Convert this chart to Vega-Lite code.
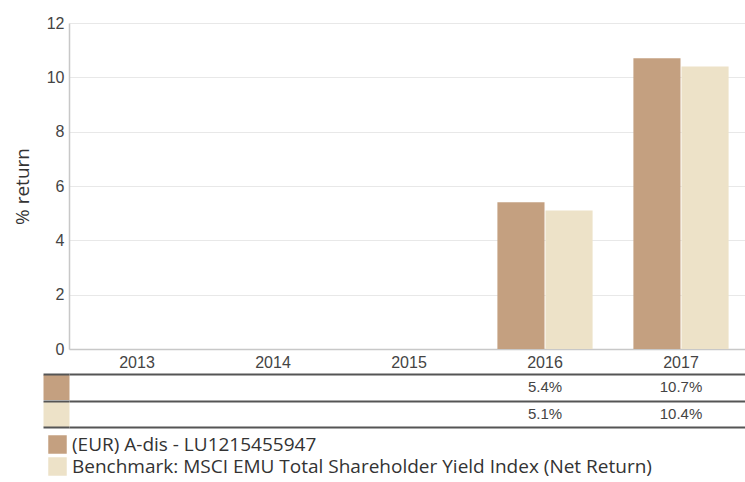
{
  "$schema": "https://vega.github.io/schema/vega-lite/v6.json",
  "padding": {"left": 13, "top": 15, "right": 0, "bottom": 0},
  "background": "white",
  "config": {
    "view": {"stroke": null},
    "concat": {"spacing": 3}
  },
  "datasets": {
    "returns": [
      {"year": "2016", "series": "(EUR) A-dis - LU1215455947", "value": 5.4, "label": "5.4%"},
      {"year": "2017", "series": "(EUR) A-dis - LU1215455947", "value": 10.7, "label": "10.7%"},
      {"year": "2016", "series": "Benchmark: MSCI EMU Total Shareholder Yield Index (Net Return)", "value": 5.1, "label": "5.1%"},
      {"year": "2017", "series": "Benchmark: MSCI EMU Total Shareholder Yield Index (Net Return)", "value": 10.4, "label": "10.4%"}
    ]
  },
  "vconcat": [
    {
      "width": 680,
      "height": 326,
      "data": {"name": "returns"},
      "mark": {"type": "bar"},
      "encoding": {
        "x": {
          "field": "year", "type": "nominal",
          "scale": {"domain": ["2013", "2014", "2015", "2016", "2017"], "paddingInner": 0.3, "paddingOuter": 0.15},
          "axis": {"title": null, "labelAngle": 0, "ticks": false, "domainColor": "#c8c8c8", "domainWidth": 1.5, "labelFont": "Liberation Sans", "labelFontSize": 16, "labelColor": "#444", "labelPadding": 5}
        },
        "xOffset": {
          "field": "series", "type": "nominal",
          "scale": {"domain": ["(EUR) A-dis - LU1215455947", "Benchmark: MSCI EMU Total Shareholder Yield Index (Net Return)"], "paddingInner": 0.02}
        },
        "y": {
          "field": "value", "type": "quantitative",
          "scale": {"domain": [0, 12]},
          "axis": {"title": "% return", "values": [0, 2, 4, 6, 8, 10, 12], "ticks": false, "domainColor": "#c8c8c8", "domainWidth": 1.5, "gridColor": "#e8e8e8", "labelFont": "Liberation Sans", "labelFontSize": 16, "labelColor": "#444", "labelPadding": 5, "titleFont": "Open Sans", "titleFontSize": 19, "titleFontWeight": "normal", "titleColor": "#333", "titlePadding": 14}
        },
        "color": {
          "field": "series", "type": "nominal",
          "scale": {"domain": ["(EUR) A-dis - LU1215455947", "Benchmark: MSCI EMU Total Shareholder Yield Index (Net Return)"], "range": ["#c4a080", "#ede2c8"]},
          "legend": {"title": null, "orient": "none", "legendX": -21, "legendY": 412, "direction": "vertical", "symbolType": "square", "symbolSize": 342, "symbolStrokeWidth": 0, "symbolOpacity": 1, "labelFont": "Open Sans", "labelFontSize": 19, "labelColor": "#333", "labelLimit": 0, "labelOffset": 5, "rowPadding": 2}
        }
      }
    },
    {
      "width": 680,
      "height": 53,
      "data": {"name": "returns"},
      "layer": [
        {
          "mark": {"type": "text", "font": "Liberation Sans", "fontSize": 15, "color": "#444"},
          "encoding": {
            "x": {"field": "year", "type": "nominal", "scale": {"domain": ["2013", "2014", "2015", "2016", "2017"], "paddingInner": 0.3, "paddingOuter": 0.15}, "axis": null},
            "y": {
              "field": "series", "type": "nominal",
              "scale": {"domain": ["(EUR) A-dis - LU1215455947", "Benchmark: MSCI EMU Total Shareholder Yield Index (Net Return)"], "paddingInner": 0, "paddingOuter": 0},
              "axis": {"title": null, "labels": false, "domain": false, "grid": false, "ticks": true, "tickSize": 26, "tickWidth": 25, "tickColor": {"condition": {"test": "datum.value === '(EUR) A-dis - LU1215455947'", "value": "#c4a080"}, "value": "#ede2c8"}}
            },
            "text": {"field": "label"}
          }
        },
        {
          "mark": {"type": "text", "opacity": 0},
          "encoding": {
            "x": {"field": "year", "type": "nominal", "axis": null},
            "y": {
              "datum": 0, "type": "quantitative",
              "scale": {"domain": [0, 2], "nice": false},
              "axis": {"orient": "left", "title": null, "values": [0, 1, 2], "labels": false, "domain": false, "grid": true, "gridColor": "#555", "gridWidth": 2, "ticks": true, "tickSize": 26, "tickWidth": 2, "tickColor": "#555"}
            },
            "text": {"field": "label"}
          }
        }
      ],
      "resolve": {"scale": {"y": "independent"}, "axis": {"y": "independent"}}
    }
  ]
}
